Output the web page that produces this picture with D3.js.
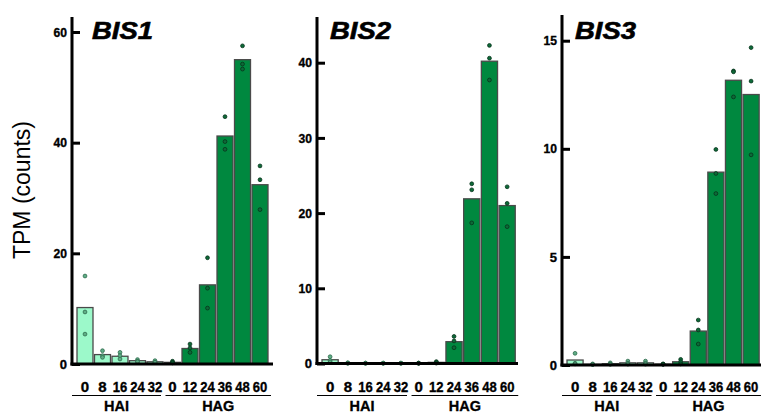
<!DOCTYPE html>
<html><head><meta charset="utf-8">
<script src="https://cdn.jsdelivr.net/npm/d3@7"></script>
<style>body{margin:0;background:#fff}svg{display:block}text{font-family:"Liberation Sans",Arial,sans-serif}</style>
</head><body>
<svg id="c" width="761" height="414"></svg>
<script>
const categories = ["0","8","16","24","32","0","12","24","36","48","60"];
const groupOf = ["HAI","HAI","HAI","HAI","HAI","HAG","HAG","HAG","HAG","HAG","HAG"];
const groupLabels = ["HAI","HAG"];
const genes = ["BIS1","BIS2","BIS3"];
const yLabel = "TPM (counts)";

const bis1Mean = [10.2, 1.7, 1.4, 0.6, 0.4, 0.3, 2.8, 14.3, 41.2, 55.0, 32.4];
const bis1Reps = [[15.9,9.4,5.4],[2.4,1.5,1.2],[2.1,1.5,0.9],[0.8,0.5,0.4],[0.6,0.3,0.3],[0.5,0.3,0.2],[3.6,2.9,2.1],[19.2,13.7,10.1],[44.7,40.2,38.8],[57.5,54.2,53.3],[35.8,33.3,27.9]];
const bis2Mean = [0.5, 0.05, 0.04, 0.04, 0.04, 0.04, 0.15, 2.9, 21.9, 40.2, 21.0];
const bis2Reps = [[0.9,0.4,0.2],[0.1,0.05,0.02],[0.06,0.04,0.02],[0.06,0.04,0.02],[0.06,0.04,0.02],[0.06,0.04,0.02],[0.25,0.15,0.05],[3.6,3.0,2.1],[23.9,23.1,18.7],[42.3,40.6,37.7],[23.5,21.3,18.2]];
const bis3Mean = [0.23, 0.03, 0.06, 0.1, 0.1, 0.04, 0.15, 1.57, 8.92, 13.17, 12.51];
const bis3Reps = [[0.54,0.08,0.05],[0.05,0.03,0.02],[0.1,0.05,0.03],[0.18,0.08,0.04],[0.18,0.08,0.04],[0.05,0.04,0.03],[0.26,0.15,0.05],[2.08,1.62,0.97],[9.97,8.86,7.93],[13.6,13.56,12.4],[14.68,13.13,9.72]];

const bis1Ticks = [0,20,40,60];
const bis2Ticks = [0,10,20,30,40];
const bis3Ticks = [0,5,10,15];

const means = [bis1Mean, bis2Mean, bis3Mean];
const reps = [bis1Reps, bis2Reps, bis3Reps];
const ticks = [bis1Ticks, bis2Ticks, bis3Ticks];

// layout (pixels)
const panels = [
  {axisX:72, b0:76.25, b1:268.75, y0:364, topVal:60, topPx:32, axisTop:17, xEnd:273, titleX:92},
  {axisX:317, b0:321.25, b1:516, y0:363.5, topVal:40, topPx:62.7, axisTop:17, xEnd:518, titleX:330},
  {axisX:562, b0:566.25, b1:759.9, y0:365, topVal:15, topPx:40.7, axisTop:15, xEnd:761, titleX:575}
];
const colors = {HAI:"#9cf9ca", HAG:"#00883f"};
const ptFill = {HAI:"#5fae86", HAG:"#0d6a38"};
const ptStroke = {HAI:"#2f6a4c", HAG:"#07331c"};

const svg = d3.select("#c");

svg.append("text")
  .attr("transform","translate(29.5,190) rotate(-90)")
  .attr("text-anchor","middle")
  .style("font-size","23px")
  .attr("fill","#000")
  .text(yLabel);

panels.forEach((p, gi) => {
  const g = svg.append("g");
  const x = d3.scaleBand().domain(d3.range(categories.length)).range([p.b0, p.b1])
    .paddingInner(0.086).paddingOuter(0.043);
  const y = d3.scaleLinear().domain([0, p.topVal]).range([p.y0, p.topPx]);
  const bw = x.bandwidth();

  g.selectAll("rect.bar").data(means[gi]).join("rect")
    .attr("class","bar")
    .attr("x",(d,i)=>x(i)).attr("width",bw)
    .attr("y",d=>y(d)).attr("height",d=>p.y0 - y(d))
    .attr("fill",(d,i)=>colors[groupOf[i]])
    .attr("stroke","#4a4a4a").attr("stroke-width",1.3);

  const pts = [];
  reps[gi].forEach((arr,i)=>arr.forEach(v=>pts.push({i,v})));
  g.selectAll("circle").data(pts).join("circle")
    .attr("cx",d=>x(d.i)+bw/2).attr("cy",d=>y(d.v)).attr("r",1.9)
    .attr("fill",d=>ptFill[groupOf[d.i]])
    .attr("stroke",d=>ptStroke[groupOf[d.i]]).attr("stroke-width",0.8);

  // y axis
  const ya = g.append("g").attr("transform",`translate(${p.axisX},0)`)
    .call(d3.axisRight(y).tickValues(ticks[gi]).tickSize(8).tickFormat(d3.format("d")));
  ya.select(".domain").remove();
  ya.selectAll(".tick line").attr("stroke","#000").attr("stroke-width",3);
  ya.selectAll(".tick text").attr("x",-5).attr("text-anchor","end")
    .style("font-size","13px").style("font-weight","bold").attr("fill","#000")
    .attr("stroke","#000").attr("stroke-width",0.35)
    .style("font-family","'Liberation Sans',Arial,sans-serif")
    .each(function(d){ if (String(d).length > 1) d3.select(this).attr("textLength",13.5).attr("lengthAdjust","spacingAndGlyphs"); });
  g.append("line").attr("x1",p.axisX).attr("x2",p.axisX)
    .attr("y1",p.axisTop).attr("y2",p.y0+1.5).attr("stroke","#000").attr("stroke-width",3);
  g.append("line").attr("x1",p.axisX-1.5).attr("x2",p.xEnd)
    .attr("y1",p.y0).attr("y2",p.y0).attr("stroke","#000").attr("stroke-width",3);

  // x tick labels
  g.selectAll("text.xl").data(categories).join("text").attr("class","xl")
    .attr("x",(d,i)=>x(i)+bw/2).attr("y",391.5)
    .attr("text-anchor","middle").style("font-size","15px").style("font-weight","bold")
    .attr("stroke","#000").attr("stroke-width",0.35)
    .each(function(d){ if (d.length > 1) d3.select(this).attr("textLength",14.5).attr("lengthAdjust","spacingAndGlyphs"); })
    .text(d=>d);

  // group lines + labels
  const grp = [
    {name:groupLabels[0], x1:p.axisX, x2:x(4)+bw-2},
    {name:groupLabels[1], x1:x(5)+1, x2:Math.min(x(10)+bw+3, 761)}
  ];
  grp.forEach(q=>{
    g.append("line").attr("x1",q.x1).attr("x2",q.x2).attr("y1",395.5).attr("y2",395.5)
      .attr("stroke","#000").attr("stroke-width",1.2);
    g.append("text").attr("x",(q.x1+q.x2)/2).attr("y",410.5).attr("text-anchor","middle")
      .style("font-size","14.5px").style("font-weight","bold")
      .attr("stroke","#000").attr("stroke-width",0.3).text(q.name);
  });

  // title
  g.append("text").attr("x",p.titleX).attr("y",39)
    .style("font-size","23px").style("font-weight","bold").style("font-style","italic")
    .attr("stroke","#000").attr("stroke-width",0.6)
    .attr("textLength",61).attr("lengthAdjust","spacingAndGlyphs")
    .text(genes[gi]);
});
</script>
</body></html>
